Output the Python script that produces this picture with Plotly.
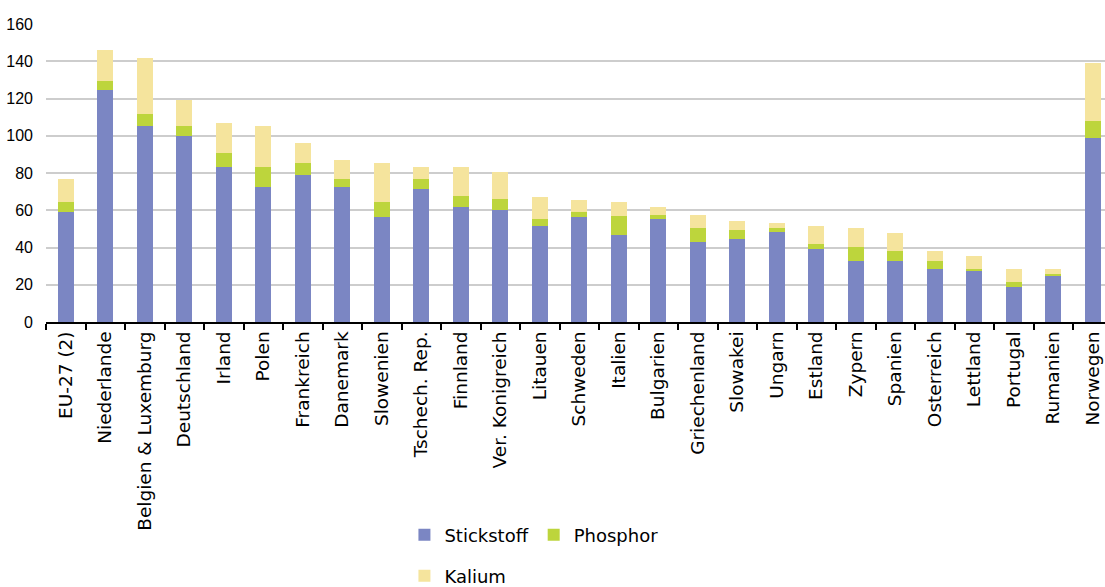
import plotly.graph_objects as go

categories = ["EU-27 (2)", "Niederlande", "Belgien & Luxemburg", "Deutschland", "Irland",
              "Polen", "Frankreich", "Danemark", "Slowenien", "Tschech. Rep.", "Finnland",
              "Ver. Konigreich", "Litauen", "Schweden", "Italien", "Bulgarien",
              "Griechenland", "Slowakei", "Ungarn", "Estland", "Zypern", "Spanien",
              "Osterreich", "Lettland", "Portugal", "Rumanien", "Norwegen"]

stickstoff = [59.3, 124.5, 105.2, 100.0, 83.0, 72.5, 79.0, 72.5, 56.4, 71.5, 61.8, 60.4,
              51.3, 56.4, 46.7, 55.4, 43.0, 44.4, 48.1, 39.3, 32.5, 32.5, 28.5, 27.2,
              19.0, 24.5, 98.7]
phosphor = [5.2, 5.0, 6.5, 5.4, 7.9, 10.5, 6.6, 4.2, 8.1, 5.2, 6.0, 5.4, 4.2, 2.9, 10.1,
            2.3, 7.5, 4.9, 2.4, 2.5, 8.0, 5.5, 4.0, 1.3, 2.7, 1.3, 9.0]
kalium = [12.5, 16.3, 30.1, 13.9, 15.8, 22.2, 10.4, 10.2, 20.9, 6.4, 15.3, 14.7, 11.4,
          6.3, 7.6, 4.1, 7.2, 5.1, 2.5, 10.0, 10.0, 10.0, 5.5, 6.8, 6.8, 2.7, 31.3]

y_ticks = [0, 20, 40, 60, 80, 100, 120, 140, 160]

FONT = "DejaVu Sans"
BW = 0.41

fig = go.Figure()
fig.add_trace(go.Bar(x=categories, y=stickstoff, name="Stickstoff", width=BW,
                     marker=dict(color="#7b86c3", line=dict(width=0)), legend="legend"))
fig.add_trace(go.Bar(x=categories, y=phosphor, name="Phosphor", width=BW,
                     marker=dict(color="#bdd53c", line=dict(width=0)), legend="legend"))
fig.add_trace(go.Bar(x=categories, y=kalium, name="Kalium", width=BW,
                     marker=dict(color="#f5e49d", line=dict(width=0)), legend="legend2"))

LEG_X = 0.366

fig.update_layout(
    width=1105, height=587,
    barmode="stack",
    plot_bgcolor="white", paper_bgcolor="white",
    margin=dict(l=46, r=0, t=24, b=265, autoexpand=False),
    font=dict(family=FONT, color="black"),
    showlegend=True,
    legend=dict(orientation="h", xref="container", yref="container",
                x=LEG_X, y=1 - 535 / 587, xanchor="left", yanchor="middle",
                traceorder="normal",
                font=dict(family=FONT, size=18), bgcolor="rgba(0,0,0,0)",
                tracegroupgap=0, itemclick=False),
    legend2=dict(orientation="h", xref="container", yref="container",
                 x=LEG_X, y=1 - 576 / 587, xanchor="left", yanchor="middle",
                 font=dict(family=FONT, size=18), bgcolor="rgba(0,0,0,0)",
                 itemclick=False),
)

fig.update_xaxes(
    type="category", range=[-0.5, 26.31],
    showline=True, linecolor="black", linewidth=2,
    ticks="outside", tickson="boundaries", ticklen=6, tickwidth=2, tickcolor="black",
    tickangle=-90, tickfont=dict(family=FONT, size=18.5),
    showgrid=False, fixedrange=True,
)
fig.update_yaxes(
    range=[0, 160], tickvals=y_ticks, ticktext=[str(v) for v in y_ticks],
    showgrid=True, gridcolor="#cdcdcd", gridwidth=2,
    zeroline=False, showline=False, ticks="",
    ticklabelstandoff=12,
    tickfont=dict(family="Liberation Sans", size=16), fixedrange=True,
)

fig.write_html("out.html")
